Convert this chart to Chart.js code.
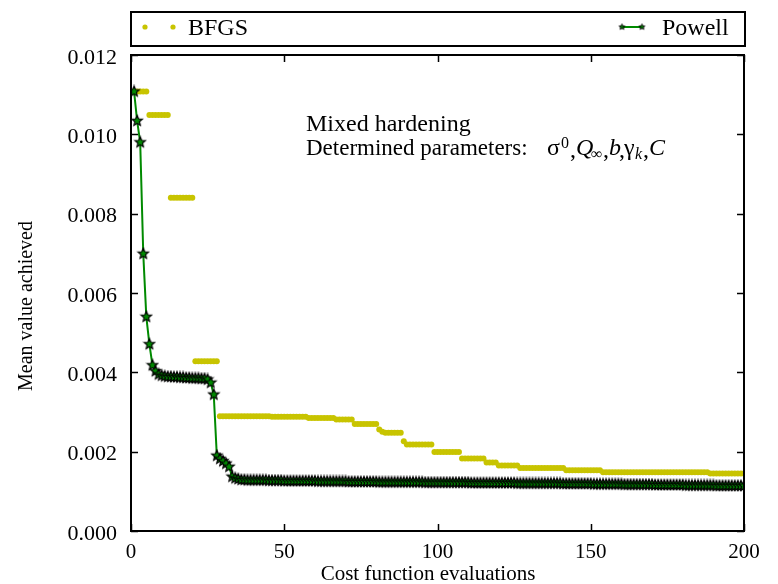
<!DOCTYPE html>
<html>

<head>
  <title>BFGS vs Powell</title>
  <script src="https://cdn.jsdelivr.net/npm/chart.js"></script>
  <style>
    body { margin: 0; background: #fff; }
  </style>
</head>

<body>
  <canvas id="costChart" width="778" height="584"></canvas>
  <script>
    // cost function evaluation index (x axis)
    const evals = [];
    for (let i = 1; i <= 200; i++) evals.push(i);

    const xTicks = [0, 50, 100, 150, 200];
    const yTicks = [0.000, 0.002, 0.004, 0.006, 0.008, 0.010, 0.012];

    // mean value achieved, BFGS (dots)
    const bfgs = [
      0.01108, 0.01108, 0.01108, 0.01108, 0.01108, 0.01049, 0.01049, 0.01049, 0.01049, 0.01049,
      0.01049, 0.01049, 0.00840, 0.00840, 0.00840, 0.00840, 0.00840, 0.00840, 0.00840, 0.00840,
      0.00428, 0.00428, 0.00428, 0.00428, 0.00428, 0.00428, 0.00428, 0.00428, 0.00289, 0.00289,
      0.00289, 0.00289, 0.00289, 0.00289, 0.00289, 0.00289, 0.00289, 0.00289, 0.00289, 0.00289,
      0.00289, 0.00289, 0.00289, 0.00289, 0.00289, 0.00288, 0.00288, 0.00288, 0.00288, 0.00288,
      0.00288, 0.00288, 0.00288, 0.00288, 0.00288, 0.00288, 0.00288, 0.00285, 0.00285, 0.00285,
      0.00285, 0.00285, 0.00285, 0.00285, 0.00285, 0.00285, 0.00281, 0.00281, 0.00281, 0.00281,
      0.00281, 0.00281, 0.00270, 0.00270, 0.00270, 0.00270, 0.00270, 0.00270, 0.00270, 0.00270,
      0.00256, 0.00250, 0.00248, 0.00248, 0.00248, 0.00248, 0.00248, 0.00248, 0.00226, 0.00218,
      0.00218, 0.00218, 0.00218, 0.00218, 0.00218, 0.00218, 0.00218, 0.00218, 0.00199, 0.00199,
      0.00199, 0.00199, 0.00199, 0.00199, 0.00199, 0.00199, 0.00199, 0.00183, 0.00183, 0.00183,
      0.00183, 0.00183, 0.00183, 0.00183, 0.00183, 0.00173, 0.00173, 0.00173, 0.00173, 0.00165,
      0.00165, 0.00165, 0.00165, 0.00165, 0.00165, 0.00165, 0.00159, 0.00159, 0.00159, 0.00159,
      0.00159, 0.00159, 0.00159, 0.00159, 0.00159, 0.00159, 0.00159, 0.00159, 0.00159, 0.00159,
      0.00159, 0.00153, 0.00153, 0.00153, 0.00153, 0.00153, 0.00153, 0.00153, 0.00153, 0.00153,
      0.00153, 0.00153, 0.00153, 0.00148, 0.00148, 0.00148, 0.00148, 0.00148, 0.00148, 0.00148,
      0.00148, 0.00148, 0.00148, 0.00148, 0.00148, 0.00148, 0.00148, 0.00148, 0.00148, 0.00148,
      0.00148, 0.00148, 0.00148, 0.00148, 0.00148, 0.00148, 0.00148, 0.00148, 0.00148, 0.00148,
      0.00148, 0.00148, 0.00148, 0.00148, 0.00148, 0.00148, 0.00148, 0.00148, 0.00145, 0.00145,
      0.00145, 0.00145, 0.00145, 0.00145, 0.00145, 0.00145, 0.00145, 0.00145, 0.00145, 0.00145
    ];

    // mean value achieved, Powell (line + stars)
    const powell = [
      0.01108, 0.01034, 0.00980, 0.00699, 0.00540, 0.00471, 0.00418, 0.00403, 0.00395, 0.00392,
      0.00390, 0.00389, 0.00389, 0.00388, 0.00388, 0.00387, 0.00387, 0.00386, 0.00386, 0.00385,
      0.00385, 0.00385, 0.00384, 0.00384, 0.00382, 0.00374, 0.00344, 0.00190, 0.00182, 0.00176,
      0.00170, 0.00162, 0.00137, 0.00133, 0.00131, 0.00129, 0.00129, 0.00128, 0.00128, 0.00128,
      0.00128, 0.00128, 0.00128, 0.00128, 0.00127, 0.00127, 0.00127, 0.00127, 0.00127, 0.00126,
      0.00126, 0.00126, 0.00126, 0.00126, 0.00126, 0.00126, 0.00126, 0.00126, 0.00126, 0.00126,
      0.00125, 0.00125, 0.00125, 0.00125, 0.00125, 0.00125, 0.00125, 0.00125, 0.00125, 0.00125,
      0.00124, 0.00124, 0.00124, 0.00124, 0.00124, 0.00124, 0.00124, 0.00124, 0.00124, 0.00124,
      0.00123, 0.00123, 0.00123, 0.00123, 0.00123, 0.00123, 0.00123, 0.00123, 0.00123, 0.00123,
      0.00123, 0.00123, 0.00123, 0.00123, 0.00123, 0.00122, 0.00122, 0.00122, 0.00122, 0.00122,
      0.00122, 0.00122, 0.00122, 0.00122, 0.00122, 0.00122, 0.00122, 0.00122, 0.00122, 0.00122,
      0.00121, 0.00121, 0.00121, 0.00121, 0.00121, 0.00121, 0.00121, 0.00121, 0.00121, 0.00121,
      0.00121, 0.00121, 0.00121, 0.00121, 0.00121, 0.00120, 0.00120, 0.00120, 0.00120, 0.00120,
      0.00120, 0.00120, 0.00120, 0.00120, 0.00120, 0.00120, 0.00120, 0.00120, 0.00120, 0.00120,
      0.00119, 0.00119, 0.00119, 0.00119, 0.00119, 0.00119, 0.00119, 0.00119, 0.00119, 0.00119,
      0.00118, 0.00118, 0.00118, 0.00118, 0.00118, 0.00118, 0.00118, 0.00118, 0.00118, 0.00118,
      0.00117, 0.00117, 0.00117, 0.00117, 0.00117, 0.00117, 0.00117, 0.00117, 0.00117, 0.00117,
      0.00116, 0.00116, 0.00116, 0.00116, 0.00116, 0.00116, 0.00116, 0.00116, 0.00116, 0.00116,
      0.00115, 0.00115, 0.00115, 0.00115, 0.00115, 0.00115, 0.00115, 0.00115, 0.00115, 0.00115,
      0.00114, 0.00114, 0.00114, 0.00114, 0.00114, 0.00114, 0.00114, 0.00114, 0.00114, 0.00114
    ];

    const SERIF = '"Liberation Serif", "Times New Roman", serif';
    const YELLOW = 'rgb(200,196,0)';
    const GREEN = '#008a00';

    // five point star used as marker
    function makeStar(r, fill, lw) {
      const c = document.createElement('canvas');
      const s = Math.ceil(r * 2 + 3);
      c.width = c.height = s;
      const g = c.getContext('2d');
      g.beginPath();
      for (let i = 0; i < 10; i++) {
        const rad = i % 2 ? r * 0.45 : r;
        const a = -Math.PI / 2 + i * Math.PI / 5;
        g.lineTo(s / 2 + rad * Math.cos(a), s / 2 + rad * Math.sin(a));
      }
      g.closePath();
      g.fillStyle = fill;
      g.fill();
      g.strokeStyle = '#000';
      g.lineWidth = lw;
      g.stroke();
      return c;
    }
    const star = makeStar(5.5, GREEN, 1.2);
    const smallStar = makeStar(3, GREEN, 1);

    const decorations = {
      id: 'decorations',
      afterDatasetsDraw(chart) {
        const { ctx, chartArea: a, scales: { x, y } } = chart;
        ctx.save();
        ctx.strokeStyle = '#000';
        ctx.lineWidth = 2;
        ctx.strokeRect(a.left, a.top, a.right - a.left, a.bottom - a.top);

        // inward ticks on all four sides
        ctx.lineWidth = 1.5;
        ctx.beginPath();
        xTicks.forEach(v => {
          const px = Math.round(x.getPixelForValue(v)) + 0.5;
          ctx.moveTo(px, a.bottom); ctx.lineTo(px, a.bottom - 7);
          ctx.moveTo(px, a.top); ctx.lineTo(px, a.top + 7);
        });
        yTicks.forEach(v => {
          const py = Math.round(y.getPixelForValue(v)) + 0.5;
          ctx.moveTo(a.left, py); ctx.lineTo(a.left + 7, py);
          ctx.moveTo(a.right, py); ctx.lineTo(a.right - 7, py);
        });
        ctx.stroke();

        // legend box
        ctx.lineWidth = 2;
        ctx.strokeRect(a.left, 12, a.right - a.left + 1, 34);
        ctx.fillStyle = YELLOW;
        [145, 173].forEach(px => {
          ctx.beginPath(); ctx.arc(px, 27, 2.6, 0, Math.PI * 2); ctx.fill();
        });
        ctx.fillStyle = '#000';
        ctx.font = '24px ' + SERIF;
        ctx.textBaseline = 'alphabetic';
        ctx.fillText('BFGS', 188, 35);
        ctx.fillText('Powell', 662, 35);
        ctx.strokeStyle = GREEN;
        ctx.beginPath(); ctx.moveTo(622, 27); ctx.lineTo(642, 27); ctx.stroke();
        ctx.drawImage(smallStar, 622 - smallStar.width / 2, 27 - smallStar.height / 2);
        ctx.drawImage(smallStar, 642 - smallStar.width / 2, 27 - smallStar.height / 2);

        // annotation
        ctx.fillStyle = '#000';
        ctx.font = '24px ' + SERIF;
        ctx.fillText('Mixed hardening', 306, 131);
        ctx.font = '23px ' + SERIF;
        ctx.fillText('Determined parameters:', 306, 155);
        const up = '24px ' + SERIF, it = 'italic 24px ' + SERIF;
        const small = '16px ' + SERIF, smallIt = 'italic 16px ' + SERIF;
        const math = [
          ['\u03c3', up, 547, 155], ['0', small, 561, 148], [',', up, 570, 157],
          ['Q', it, 576, 155], ['\u221e', small, 591, 159], [',', up, 603, 157],
          ['b', it, 609, 155], [',', up, 619, 157],
          ['\u03b3', up, 624, 155], ['k', smallIt, 635, 159], [',', up, 643, 157],
          ['C', it, 649, 155]
        ];
        math.forEach(([t, f, px, py]) => { ctx.font = f; ctx.fillText(t, px, py); });

        // axis titles
        ctx.font = '21px ' + SERIF;
        ctx.textAlign = 'center';
        ctx.fillText('Cost function evaluations', 428, 580);
        ctx.save();
        ctx.translate(32, 306);
        ctx.rotate(-Math.PI / 2);
        ctx.font = '20px ' + SERIF;
        ctx.fillText('Mean value achieved', 0, 0);
        ctx.restore();
        ctx.restore();
      }
    };

    const ctx = document.getElementById('costChart').getContext('2d');
    const chart = new Chart(ctx, {
      type: 'line',
      data: {
        datasets: [{
          label: 'BFGS',
          data: evals.map((e, i) => ({ x: e, y: bfgs[i] })),
          showLine: false,
          pointRadius: 3,
          pointBorderWidth: 0,
          pointBackgroundColor: YELLOW,
          borderColor: YELLOW,
          order: 1
        }, {
          label: 'Powell',
          data: evals.map((e, i) => ({ x: e, y: powell[i] })),
          borderColor: GREEN,
          borderWidth: 2,
          pointStyle: star,
          order: 0
        }]
      },
      options: {
        responsive: false,
        animation: false,
        devicePixelRatio: 1,
        layout: { padding: { left: 0, top: 55, right: 34, bottom: 0 } },
        plugins: { legend: { display: false }, tooltip: { enabled: false } },
        scales: {
          x: {
            type: 'linear',
            min: 0,
            max: 200,
            afterFit: s => { s.height = 53; },
            afterBuildTicks: s => { s.ticks = xTicks.map(v => ({ value: v })); },
            grid: { display: false, drawTicks: false },
            border: { display: false },
            ticks: { color: '#000', font: { family: SERIF, size: 21 }, padding: 9, maxRotation: 0 }
          },
          y: {
            min: 0,
            max: 0.012,
            afterFit: s => { s.width = 131; },
            afterBuildTicks: s => { s.ticks = yTicks.map(v => ({ value: v })); },
            grid: { display: false, drawTicks: false },
            border: { display: false },
            ticks: {
              color: '#000', font: { family: SERIF, size: 22 }, padding: 14, labelOffset: 3,
              callback: v => v.toFixed(3)
            }
          }
        }
      },
      plugins: [decorations]
    });
  </script>
</body>

</html>
